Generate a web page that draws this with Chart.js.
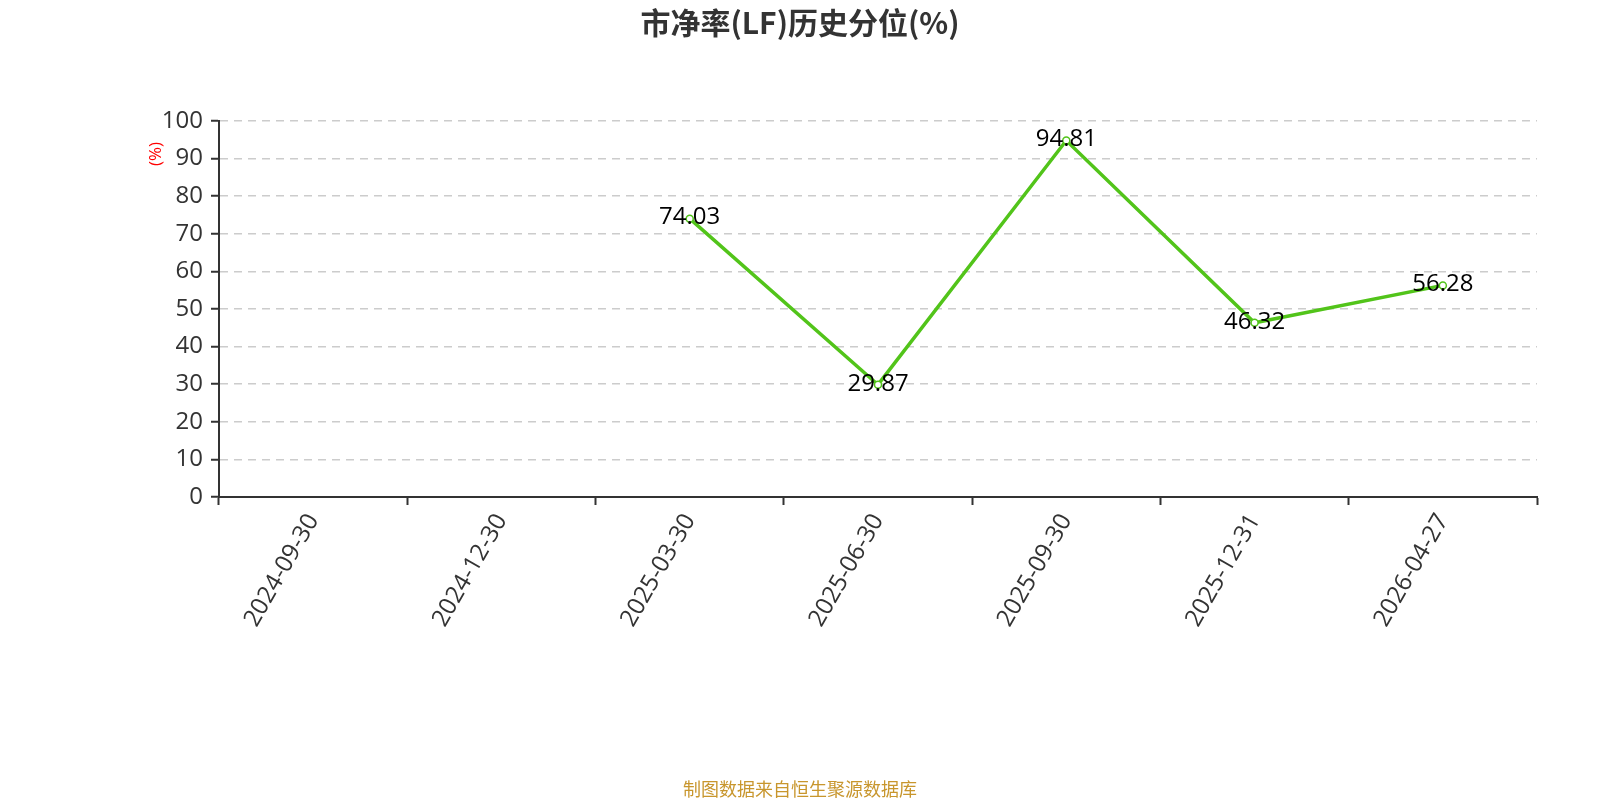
<!DOCTYPE html>
<html>
<head>
<meta charset="utf-8">
<script src="https://cdn.jsdelivr.net/npm/chart.js@4"></script>
<style>
  html, body { margin: 0; padding: 0; background: #fff; }
  #wrap { width: 1600px; height: 800px; }
</style>
</head>
<body>
<div id="wrap"><canvas id="c" width="1600" height="800"></canvas></div>
<script>
const categories = ["2024-09-30", "2024-12-30", "2025-03-30", "2025-06-30", "2025-09-30", "2025-12-31", "2026-04-27"];
const percentile = [null, null, 74.03, 29.87, 94.81, 46.32, 56.28];
const yTicks = [0, 10, 20, 30, 40, 50, 60, 70, 80, 90, 100];

const FONT = '"Open Sans", "Noto Sans CJK SC", sans-serif';
const CJK = '"Noto Sans CJK SC", sans-serif';

// title, footer, unit label and value labels
const decorations = {
  id: "decorations",
  afterDatasetsDraw(chart) {
    const ctx = chart.ctx;
    ctx.save();
    ctx.fillStyle = "#333";
    ctx.font = "bold 30px " + CJK;
    ctx.textAlign = "center";
    ctx.textBaseline = "middle";
    ctx.fillText("市净率(LF)历史分位(%)", 800, 23);

    ctx.fillStyle = "#c8962d";
    ctx.font = "18px " + CJK;
    ctx.fillText("制图数据来自恒生聚源数据库", 800, 789);

    ctx.save();
    ctx.translate(156, 154);
    ctx.rotate(-Math.PI / 2);
    ctx.fillStyle = "#ff0000";
    ctx.font = "17px " + FONT;
    ctx.fillText("(%)", 0, 0);
    ctx.restore();

    const meta = chart.getDatasetMeta(0);
    ctx.fillStyle = "#000";
    ctx.font = "24px " + FONT;
    meta.data.forEach((pt, i) => {
      const v = percentile[i];
      if (v === null) return;
      ctx.fillText(v.toFixed(2), pt.x, pt.y - 1);
    });
    ctx.restore();
  },
};

new Chart(document.getElementById("c"), {
  type: "line",
  data: {
    labels: categories,
    datasets: [
      {
        data: percentile,
        borderColor: "#52c41a",
        borderWidth: 3.5,
        pointRadius: 3.5,
        pointBorderWidth: 1.5,
        pointBackgroundColor: "#fff",
        pointBorderColor: "#52c41a",
        tension: 0,
        spanGaps: false,
      },
    ],
  },
  options: {
    responsive: false,
    animation: false,
    layout: { padding: { top: 121, right: 63, bottom: 0, left: 0 } },
    plugins: {
      legend: { display: false },
      tooltip: { enabled: false },
    },
    scales: {
      x: {
        type: "category",
        offset: true,
        grid: {
          offset: true,
          drawOnChartArea: false,
          tickLength: 8,
          tickColor: "#333",
          tickWidth: 2,
        },
        border: { color: "#333", width: 2 },
        ticks: {
          color: "#333",
          font: { family: FONT, size: 24 },
          minRotation: 60,
          maxRotation: 60,
          padding: 4,
          autoSkip: false,
        },
        afterFit(scale) {
          scale.height = 303;
        },
      },
      y: {
        min: 0,
        max: 100,
        afterBuildTicks(scale) {
          scale.ticks = yTicks.map((v) => ({ value: v }));
        },
        grid: {
          color: "#cccccc",
          lineWidth: 1.5,
          tickLength: 8,
          tickColor: "#333",
          tickWidth: 2,
        },
        border: { color: "#333", width: 2, dash: [8, 6] },
        ticks: {
          color: "#333",
          font: { family: FONT, size: 24 },
          padding: 8,
        },
        afterFit(scale) {
          scale.width = 219;
        },
      },
    },
  },
  plugins: [decorations],
});
</script>
</body>
</html>
